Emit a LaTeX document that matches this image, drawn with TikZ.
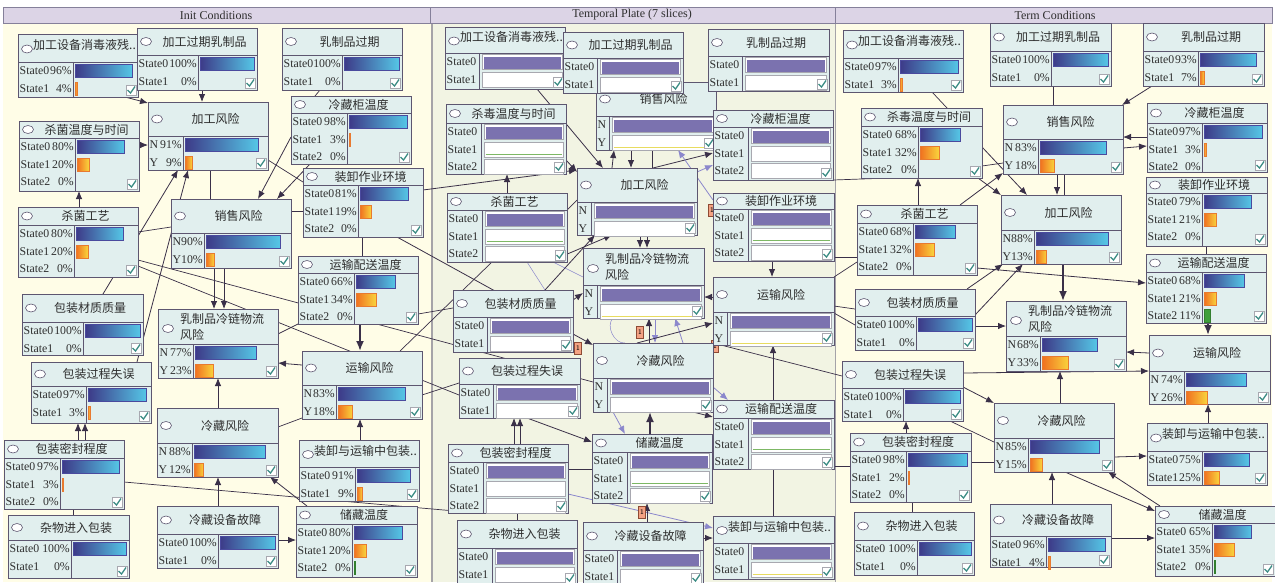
\documentclass[tikz,border=0pt]{standalone}
\usepackage{fontspec}
\setmainfont{Liberation Serif}
\newfontfamily\cjk{Noto Sans CJK SC}
\usetikzlibrary{arrows.meta,shapes.geometric}
\pgfdeclarelayer{bgl}
\pgfdeclarelayer{edl}
\pgfsetlayers{bgl,edl,main}
\definecolor{cream}{HTML}{FFFDE7}
\definecolor{tplate}{HTML}{F2F4E3}
\definecolor{hdrf}{HTML}{DCD4E6}
\definecolor{hdrb}{HTML}{85809A}
\definecolor{nodef}{HTML}{E1EFEE}
\definecolor{nodeb}{HTML}{5D5670}
\definecolor{txt}{HTML}{2E2E2E}
\definecolor{edgec}{HTML}{3A3048}
\definecolor{lavc}{HTML}{8B87CC}
\definecolor{barA}{HTML}{3D3A88}
\definecolor{barB}{HTML}{55C6E6}
\definecolor{barE}{HTML}{4A4A9E}
\definecolor{orA}{HTML}{F07020}
\definecolor{orB}{HTML}{F9D43C}
\definecolor{orE}{HTML}{E87A30}
\definecolor{grA}{HTML}{3F9F3B}
\definecolor{tpur}{HTML}{7B72AF}
\definecolor{tbord}{HTML}{A8A8B0}
\definecolor{chkc}{HTML}{3B8C84}
\definecolor{onef}{HTML}{F4A283}
\definecolor{oneb}{HTML}{8E4A34}
\definecolor{plateb}{HTML}{A5A3A8}
\definecolor{tgreen}{HTML}{7DB865}
\definecolor{tyel}{HTML}{E8DC60}
\tikzset{
  bnbox/.style={rectangle,draw=nodeb,fill=nodef,line width=1pt,inner sep=0pt,outer sep=0pt},
  bnline/.style={draw=nodeb,line width=0.9pt},
  bnoval/.style={ellipse,draw=nodeb,fill=white,minimum width=11pt,minimum height=8pt,inner sep=0pt,line width=0.6pt},
  bntitle/.style={font=\cjk\fontsize{12}{16}\selectfont,text=txt,inner sep=0pt},
  bnlabel/.style={font=\fontsize{11.8}{14}\selectfont,text=txt,inner sep=0pt},
  barblue/.style={left color=barA,right color=barB,draw=barE,line width=0.6pt},
  barorange/.style={left color=orA,right color=orB,draw=orE,line width=0.6pt},
  bargreen/.style={fill=grA,draw=grA!80!black,line width=0.4pt},
  tboxw/.style={fill=white,draw=tbord,line width=0.6pt},
  chkbox/.style={fill=white,draw=tbord,line width=0.5pt},
  chk/.style={draw=chkc,line width=1.3pt},
  edge/.style={draw=edgec,line width=0.8pt,-{Latex[length=8pt,width=6.5pt]}},
  tedge/.style={draw=edgec,line width=1.8pt,-{Latex[length=10pt,width=8pt]}},
  pline/.style={draw=edgec,line width=0.7pt},
  lav/.style={draw=lavc,line width=0.8pt,-{Latex[length=8pt,width=6.5pt]}},
  lavthin/.style={draw=lavc,line width=0.5pt},
  onebox/.style={rectangle,fill=onef,draw=oneb,line width=0.5pt,minimum width=7pt,minimum height=12pt,inner sep=0pt,font=\fontsize{7}{8}\selectfont\sffamily},
  hdr/.style={fill=hdrf,draw=hdrb,line width=0.6pt},
  hdrtext/.style={font=\fontsize{12}{14}\selectfont,text=txt,inner sep=0pt}
}
\newcounter{bnc}
\newcommand\bnnode[9]{%
  \def\bnXa{#2}\def\bnYa{#3}\def\bnXb{#4}\def\bnYb{#5}\def\bnSep{#6}\def\bnCol{#7}%
  \pgfmathsetmacro\bnW{#4-#2}\pgfmathsetmacro\bnH{#5-#3}%
  \pgfmathsetmacro\bnMid{(#3+#6)/2}%
  \node[bnbox,minimum width=\bnW pt,minimum height=\bnH pt,anchor=north west] (#1) at (#2,#3) {};
  \draw[bnline] (#2,#6) -- (#4,#6) (#7,#6) -- (#7,#5);
  \if#8c
    \node[bnoval] (#1-o) at (#2+9,\bnMid) {};
    \node[bntitle] (#1-t) at ({(#2+15+#4)/2},\bnMid) {#9};
  \fi
  \if#8l
    \node[bnoval] (#1-o) at (#2+9,\bnMid+1) {};
    \node[bntitle,anchor=west] (#1-t) at (#2+15,\bnMid-3) {#9};
  \fi
  \if#8w
    \node[bnoval] (#1-o) at (#2+10,\bnMid+2) {};
    \node[bntitle,anchor=west,align=left] (#1-t) at (#2+22,\bnMid) {#9};
  \fi
}
\newcommand\bnend{%
  \path[chkbox] (\bnXb-12,\bnYb-12) rectangle (\bnXb-2,\bnYb-2);
  \draw[chk] (\bnXb-10.5,\bnYb-7) -- (\bnXb-7.5,\bnYb-4) -- (\bnXb-3,\bnYb-10.5);
}
\newcommand\bnlab[3]{%
  \pgfmathsetmacro\bnY{\bnSep+9+17.5*#1}%
  \stepcounter{bnc}%
  \node[bnlabel,anchor=west] (lab\arabic{bnc}) at (\bnXa+1.5,\bnY) {#2};
  \node[bnlabel,anchor=east] (pct\arabic{bnc}) at (\bnCol-1,\bnY) {#3};
}
\newcommand\bnlabT[2]{%
  \pgfmathsetmacro\bnY{\bnSep+9+17.5*#1}%
  \stepcounter{bnc}%
  \node[bnlabel,anchor=west] (lab\arabic{bnc}) at (\bnXa+1.5,\bnY) {#2};
}
\newcommand\bnbar[3]{%
  \pgfmathsetmacro\bnY{\bnSep+9+17.5*#1}%
  \pgfmathsetmacro\bnL{max(#2*(\bnXb-\bnCol-5),1.6)}%
  \path[#3] (\bnCol+2,\bnY-6.5) rectangle ++(\bnL,13);
}
\newcommand\rowB[4]{\bnlab{#1}{#2}{#3}\ifdim#4pt>0pt\bnbar{#1}{#4}{barblue}\fi}
\newcommand\rowO[4]{\bnlab{#1}{#2}{#3}\ifdim#4pt>0pt\bnbar{#1}{#4}{barorange}\fi}
\newcommand\rowG[4]{\bnlab{#1}{#2}{#3}\ifdim#4pt>0pt\bnbar{#1}{#4}{bargreen}\fi}
\newcommand\rowP[2]{\bnlabT{#1}{#2}%
  \path[tboxw] (\bnCol+3,\bnY-7.5) rectangle (\bnXb-3,\bnY+7.5);
  \fill[tpur] (\bnCol+4.5,\bnY-5.5) rectangle (\bnXb-4.5,\bnY+6.5);}
\newcommand\rowW[2]{\bnlabT{#1}{#2}%
  \path[tboxw] (\bnCol+3,\bnY-7.5) rectangle (\bnXb-3,\bnY+7.5);}
\newcommand\rowWL[3]{\bnlabT{#1}{#2}%
  \path[tboxw] (\bnCol+3,\bnY-7.5) rectangle (\bnXb-3,\bnY+7.5);
  \draw[#3,line width=1.3pt] (\bnCol+4.5,\bnY+5) -- (\bnXb-4.5,\bnY+5);}
\newcommand\E[7][edge]{\draw[#1] ([shift={(#3,#4)}]#2.north west) -- ([shift={(#6,#7)}]#5.north west);}
\begin{document}
\begin{tikzpicture}[x=1pt,y=-1pt]
\useasboundingbox (0,0) rectangle (1275,582);
\begin{pgfonlayer}{bgl}
\fill[white] (0,0) rectangle (1275,582);
\fill[cream] (3,23) rectangle (1272,582);
\fill[tplate] (432,23) rectangle (835,582);
\draw[plateb,line width=1.8pt] (432,23) -- (432,582);
\draw[plateb,line width=0.8pt] (835,23) -- (835,582);
\draw[hdr] (3,7) rectangle (430,23);
\draw[hdr] (430,7) rectangle (835,23);
\draw[hdr] (835,7) rectangle (1272,23);
\end{pgfonlayer}
\node[hdrtext] (h-init) at (216,15) {Init Conditions};
\node[hdrtext] (h-temp) at (632,15) {Temporal Plate (7 slices)};
\node[hdrtext] (h-term) at (1055,15) {Term Conditions};
% ================= Init =================
\bnnode{i-dis}{18}{34}{138}{97}{62}{73}{l}{加工设备消毒液残..}
\rowB{0}{State0}{96\%}{0.96}\rowO{1}{State1}{4\%}{0.04}\bnend
\bnnode{i-exp}{137}{28}{257}{90}{55}{198}{c}{加工过期乳制品}
\rowB{0}{State0}{100\%}{1}\rowO{1}{State1}{0\%}{0}\bnend
\bnnode{i-milk}{282}{28}{402}{90}{55}{342}{c}{乳制品过期}
\rowB{0}{State0}{100\%}{1}\rowO{1}{State1}{0\%}{0}\bnend
\bnnode{i-proc}{148}{102}{268}{170}{136}{183}{c}{加工风险}
\rowB{0}{N}{91\%}{0.91}\rowO{1}{Y}{9\%}{0.09}\bnend
\bnnode{i-fridge}{291}{96}{411}{164}{113}{347}{c}{冷藏柜温度}
\rowB{0}{State0}{98\%}{0.98}\rowO{1}{State1}{3\%}{0.03}\rowG{2}{State2}{0\%}{0}\bnend
\bnnode{i-sterT}{19}{121}{139}{191}{138}{75}{c}{杀菌温度与时间}
\rowB{0}{State0}{80\%}{0.80}\rowO{1}{State1}{20\%}{0.20}\rowG{2}{State2}{0\%}{0}\bnend
\bnnode{i-load}{303}{168}{423}{237}{185}{358}{c}{装卸作业环境}
\rowB{0}{State0}{81\%}{0.81}\rowO{1}{State1}{19\%}{0.19}\rowG{2}{State2}{0\%}{0}\bnend
\bnnode{i-ster}{18}{207}{138}{277}{225}{74}{c}{杀菌工艺}
\rowB{0}{State0}{80\%}{0.80}\rowO{1}{State1}{20\%}{0.20}\rowG{2}{State2}{0\%}{0}\bnend
\bnnode{i-sale}{171}{199}{291}{268}{233}{204}{c}{销售风险}
\rowB{0}{N}{90\%}{0.90}\rowO{1}{Y}{10\%}{0.10}\bnend
\bnnode{i-tdist}{298}{256}{418}{324}{273}{354}{c}{运输配送温度}
\rowB{0}{State0}{66\%}{0.66}\rowO{1}{State1}{34\%}{0.34}\rowG{2}{State2}{0\%}{0}\bnend
\bnnode{i-pmat}{22}{294}{143}{355}{322}{83}{c}{包装材质质量}
\rowB{0}{State0}{100\%}{1}\rowO{1}{State1}{0\%}{0}\bnend
\bnnode{i-cold}{158}{309}{278}{378}{344}{193}{w}{乳制品冷链物流\\风险}
\rowB{0}{N}{77\%}{0.77}\rowO{1}{Y}{23\%}{0.23}\bnend
\bnnode{i-perr}{31}{362}{151}{423}{386}{86}{c}{包装过程失误}
\rowB{0}{State0}{97\%}{0.97}\rowO{1}{State1}{3\%}{0.03}\bnend
\bnnode{i-trans}{302}{351}{422}{419}{385}{336}{c}{运输风险}
\rowB{0}{N}{83\%}{0.83}\rowO{1}{Y}{18\%}{0.18}\bnend
\bnnode{i-refr}{157}{408}{278}{477}{443}{192}{c}{冷藏风险}
\rowB{0}{N}{88\%}{0.88}\rowO{1}{Y}{12\%}{0.12}\bnend
\bnnode{i-pkgld}{299}{440}{419}{501}{467}{355}{l}{装卸与运输中包装..}
\rowB{0}{State0}{91\%}{0.91}\rowO{1}{State1}{9\%}{0.09}\bnend
\bnnode{i-seal}{4}{440}{124}{509}{458}{60}{c}{包装密封程度}
\rowB{0}{State0}{97\%}{0.97}\rowO{1}{State1}{3\%}{0.03}\rowG{2}{State2}{0\%}{0}\bnend
\bnnode{i-debris}{8}{515}{129}{578}{540}{71}{c}{杂物进入包装}
\rowB{0}{State0}{100\%}{1}\rowO{1}{State1}{0\%}{0}\bnend
\bnnode{i-equip}{157}{506}{278}{568}{534}{218}{c}{冷藏设备故障}
\rowB{0}{State0}{100\%}{1}\rowO{1}{State1}{0\%}{0}\bnend
\bnnode{i-store}{296}{506}{417}{577}{524}{352}{c}{储藏温度}
\rowB{0}{State0}{80\%}{0.80}\rowO{1}{State1}{20\%}{0.20}\rowG{2}{State2}{0\%}{0.005}\bnend
% ================= Temporal =================
\bnnode{p-sale}{596}{82}{716}{150}{116}{609}{c}{销售风险}
\rowP{0}{N}\rowWL{1}{Y}{tyel}\bnend
\bnnode{p-dis}{445}{27}{565}{89}{53}{479}{l}{加工设备消毒液残..}
\rowP{0}{State0}\rowW{1}{State1}\bnend
\bnnode{p-exp}{563}{32}{683}{93}{58}{597}{c}{加工过期乳制品}
\rowP{0}{State0}\rowW{1}{State1}\bnend
\bnnode{p-milk}{708}{29}{829}{91}{56}{742}{c}{乳制品过期}
\rowP{0}{State0}\rowW{1}{State1}\bnend
\bnnode{p-fridge}{713}{110}{833}{180}{127}{748}{c}{冷藏柜温度}
\rowP{0}{State0}\rowW{1}{State1}\rowW{2}{State2}\bnend
\bnnode{p-sterT}{446}{104}{566}{174}{123}{481}{c}{杀毒温度与时间}
\rowP{0}{State0}\rowWL{1}{State1}{tgreen}\rowW{2}{State2}\bnend
\bnnode{p-proc}{577}{168}{697}{235}{202}{591}{c}{加工风险}
\rowP{0}{N}\rowW{1}{Y}\bnend
\bnnode{p-load}{713}{193}{834}{261}{209}{748}{c}{装卸作业环境}
\rowP{0}{State0}\rowWL{1}{State1}{tgreen}\rowW{2}{State2}\bnend
\bnnode{p-ster}{447}{193}{567}{262}{210}{482}{c}{杀菌工艺}
\rowP{0}{State0}\rowWL{1}{State1}{tgreen}\rowW{2}{State2}\bnend
\bnnode{p-cold}{583}{248}{704}{318}{285}{597}{w}{乳制品冷链物流\\风险}
\rowP{0}{N}\rowWL{1}{Y}{tyel}\bnend
\bnnode{p-trans}{713}{277}{834}{345}{312}{727}{c}{运输风险}
\rowP{0}{N}\rowWL{1}{Y}{tyel}\bnend
\bnnode{p-pmat}{453}{290}{573}{352}{317}{487}{c}{包装材质质量}
\rowP{0}{State0}\rowW{1}{State1}\bnend
\bnnode{p-refr}{593}{343}{713}{412}{378}{607}{c}{冷藏风险}
\rowP{0}{N}\rowW{1}{Y}\bnend
\bnnode{p-perr}{459}{358}{580}{418}{384}{493}{c}{包装过程失误}
\rowP{0}{State0}\rowW{1}{State1}\bnend
\bnnode{p-tdist}{713}{400}{834}{469}{418}{748}{c}{运输配送温度}
\rowP{0}{State0}\rowWL{1}{State1}{tgreen}\rowW{2}{State2}\bnend
\bnnode{p-store}{592}{434}{712}{503}{452}{627}{c}{储藏温度}
\rowP{0}{State0}\rowWL{1}{State1}{tgreen}\rowW{2}{State2}\bnend
\bnnode{p-seal}{448}{444}{568}{513}{462}{483}{c}{包装密封程度}
\rowP{0}{State0}\rowW{1}{State1}\rowW{2}{State2}\bnend
\bnnode{p-debris}{457}{520}{577}{585}{548}{492}{c}{杂物进入包装}
\rowP{0}{State0}\rowW{1}{State1}\bnend
\bnnode{p-equip}{583}{522}{703}{585}{550}{617}{c}{冷藏设备故障}
\rowP{0}{State0}\rowW{1}{State1}\bnend
\bnnode{p-pkgld}{713}{516}{834}{579}{543}{748}{l}{装卸与运输中包装..}
\rowP{0}{State0}\rowWL{1}{State1}{tyel}\bnend
% ================= Term =================
\bnnode{t-dis}{843}{30}{963}{92}{58}{898}{l}{加工设备消毒液残..}
\rowB{0}{State0}{97\%}{0.97}\rowO{1}{State1}{3\%}{0.03}\bnend
\bnnode{t-exp}{990}{23}{1111}{86}{51}{1051}{c}{加工过期乳制品}
\rowB{0}{State0}{100\%}{1}\rowO{1}{State1}{0\%}{0}\bnend
\bnnode{t-milk}{1143}{23}{1264}{86}{51}{1198}{c}{乳制品过期}
\rowB{0}{State0}{93\%}{0.93}\rowO{1}{State1}{7\%}{0.07}\bnend
\bnnode{t-sterT}{861}{108}{982}{178}{126}{918}{c}{杀毒温度与时间}
\rowB{0}{State0}{68\%}{0.68}\rowO{1}{State1}{32\%}{0.32}\rowG{2}{State2}{0\%}{0}\bnend
\bnnode{t-sale}{1003}{105}{1123}{174}{139}{1038}{c}{销售风险}
\rowB{0}{N}{83\%}{0.83}\rowO{1}{Y}{18\%}{0.18}\bnend
\bnnode{t-fridge}{1147}{103}{1267}{172}{123}{1202}{c}{冷藏柜温度}
\rowB{0}{State0}{97\%}{0.97}\rowO{1}{State1}{3\%}{0.03}\rowG{2}{State2}{0\%}{0}\bnend
\bnnode{t-load}{1146}{177}{1267}{246}{193}{1202}{c}{装卸作业环境}
\rowB{0}{State0}{79\%}{0.79}\rowO{1}{State1}{21\%}{0.21}\rowG{2}{State2}{0\%}{0}\bnend
\bnnode{t-ster}{857}{205}{977}{275}{223}{913}{c}{杀菌工艺}
\rowB{0}{State0}{68\%}{0.68}\rowO{1}{State1}{32\%}{0.32}\rowG{2}{State2}{0\%}{0}\bnend
\bnnode{t-proc}{1001}{195}{1121}{264}{230}{1034}{c}{加工风险}
\rowB{0}{N}{88\%}{0.88}\rowO{1}{Y}{13\%}{0.13}\bnend
\bnnode{t-tdist}{1146}{254}{1266}{323}{272}{1202}{c}{运输配送温度}
\rowB{0}{State0}{68\%}{0.68}\rowO{1}{State1}{21\%}{0.21}\rowG{2}{State2}{11\%}{0.11}\bnend
\bnnode{t-pmat}{855}{289}{975}{350}{316}{916}{c}{包装材质质量}
\rowB{0}{State0}{100\%}{1}\rowO{1}{State1}{0\%}{0}\bnend
\bnnode{t-cold}{1006}{301}{1126}{371}{336}{1040}{w}{乳制品冷链物流\\风险}
\rowB{0}{N}{68\%}{0.68}\rowO{1}{Y}{33\%}{0.33}\bnend
\bnnode{t-trans}{1149}{335}{1270}{404}{371}{1184}{c}{运输风险}
\rowB{0}{N}{74\%}{0.74}\rowO{1}{Y}{26\%}{0.26}\bnend
\bnnode{t-perr}{842}{361}{963}{421}{388}{903}{c}{包装过程失误}
\rowB{0}{State0}{100\%}{1}\rowO{1}{State1}{0\%}{0}\bnend
\bnnode{t-refr}{994}{403}{1114}{472}{438}{1028}{c}{冷藏风险}
\rowB{0}{N}{85\%}{0.85}\rowO{1}{Y}{15\%}{0.15}\bnend
\bnnode{t-pkgld}{1147}{423}{1267}{485}{451}{1202}{l}{装卸与运输中包装..}
\rowB{0}{State0}{75\%}{0.75}\rowO{1}{State1}{25\%}{0.25}\bnend
\bnnode{t-seal}{850}{433}{971}{502}{451}{906}{c}{包装密封程度}
\rowB{0}{State0}{98\%}{0.98}\rowO{1}{State1}{2\%}{0.02}\rowG{2}{State2}{0\%}{0}\bnend
\bnnode{t-debris}{854}{512}{974}{575}{540}{917}{c}{杂物进入包装}
\rowB{0}{State0}{100\%}{1}\rowO{1}{State1}{0\%}{0}\bnend
\bnnode{t-equip}{990}{504}{1111}{567}{536}{1046}{c}{冷藏设备故障}
\rowB{0}{State0}{96\%}{0.96}\rowO{1}{State1}{4\%}{0.04}\bnend
\bnnode{t-store}{1155}{506}{1275}{576}{523}{1212}{c}{储藏温度}
\rowB{0}{State0}{65\%}{0.65}\rowO{1}{State1}{35\%}{0.35}\rowG{2}{State2}{0\%}{0.005}\bnend
% ================= Edges =================
\begin{pgfonlayer}{edl}
% Init
\E{i-dis}{107}{63}{i-proc}{0}{1}
\E{i-exp}{65}{62}{i-proc}{54}{0}
\E{i-sterT}{120}{24}{i-proc}{0}{43}
\E{i-ster}{61}{0}{i-sterT}{60}{70}
\E{i-pmat}{81}{0}{i-proc}{30}{68}
\E{i-perr}{106}{0}{i-proc}{40}{68}
\E[pline]{i-ster}{120}{25}{i-sale}{0}{28}
\E[pline]{i-ster}{120}{53}{p-refr}{0}{39}
\E[pline]{i-ster}{120}{59}{p-perr}{0}{37}
\E[pline]{i-proc}{62}{68}{i-sale}{39}{0}
\E{i-fridge}{0}{41}{i-sale}{87}{0}
\E{i-fridge}{19}{68}{i-sale}{106}{0}
\E[pline]{i-milk}{38}{62}{i-fridge}{24}{0}
\E[pline]{i-load}{0}{43}{i-sale}{120}{12}
\E[pline]{i-load}{59}{69}{i-tdist}{64}{0}
\E[pline]{i-proc}{120}{58}{i-load}{0}{14}
\E{i-sale}{43}{69}{i-cold}{56}{0}
\E{i-sale}{53}{69}{i-cold}{66}{0}
\E[tedge]{i-tdist}{62}{68}{i-trans}{58}{0}
\E{i-trans}{0}{14}{i-cold}{120}{54}
\E{i-refr}{61}{0}{i-cold}{60}{69}
\E[pline]{i-refr}{121}{19}{i-trans}{0}{67}
\E{i-pkgld}{61}{0}{i-trans}{58}{68}
\E{i-equip}{61}{0}{i-refr}{61}{69}
\E{i-equip}{121}{34}{i-store}{0}{34}
\E{i-store}{11}{0}{i-refr}{113}{69}
\E{i-seal}{74}{0}{i-perr}{47}{61}
\E{i-seal}{81}{0}{i-perr}{54}{61}
\E[pline]{i-debris}{65}{0}{i-seal}{69}{69}
\E[pline]{i-cold}{120}{25}{i-tdist}{0}{68}
% Init -> Temporal
\E{i-load}{120}{22}{p-proc}{0}{2}
\E{i-load}{94}{69}{p-refr}{0}{2}
\E[pline]{i-tdist}{120}{58}{p-pmat}{0}{18}
\E[pline]{i-trans}{98}{0}{p-ster}{45}{69}
\E[pline]{i-trans}{120}{44}{p-perr}{0}{25}
\E[pline]{i-seal}{120}{42}{p-seal}{30}{69}
% Temporal
\E{p-dis}{92}{62}{p-proc}{26}{0}
\E{p-sterT}{120}{56}{p-proc}{0}{4}
\E{p-sale}{35}{68}{p-proc}{54}{0}
\E{p-proc}{35}{0}{p-sale}{18}{68}
\E[pline]{p-sale}{56}{68}{p-proc}{75}{0}
\E{p-proc}{76}{0}{p-fridge}{0}{43}
\E[lav]{p-proc}{120}{4}{p-fridge}{0}{55}
\E[lav]{p-load}{0}{7}{p-sale}{82}{68}
\E{p-ster}{60}{0}{p-sterT}{61}{70}
\E[pline]{p-ster}{120}{17}{p-proc}{0}{32}
\E{p-pmat}{92}{0}{p-proc}{18}{67}
\E{p-ster}{118}{62}{p-proc}{35}{67}
\E{p-proc}{63}{67}{p-cold}{57}{0}
\E{p-proc}{70}{67}{p-cold}{64}{0}
\E{p-load}{59}{68}{p-trans}{59}{0}
\E{p-trans}{0}{20}{p-cold}{121}{49}
\E{p-refr}{56}{0}{p-cold}{66}{70}
\E[lav]{p-cold}{72}{70}{p-refr}{62}{0}
\draw[lavthin] ([shift={(30,70)}]p-cold.north west) to[bend right=70] ([shift={(32,0)}]p-refr.north west);
\E[lav]{p-refr}{90}{0}{p-cold}{92}{70}
\E{p-pmat}{120}{10}{p-cold}{0}{45}
\E{p-refr}{44}{0}{p-trans}{0}{46}
\E{p-tdist}{60}{0}{p-trans}{60}{68}
\E[lav]{p-refr}{120}{44}{p-tdist}{15}{0}
\E{p-refr}{100}{69}{p-tdist}{0}{17}
\E[tedge]{p-store}{58}{0}{p-refr}{57}{69}
\E[lav]{p-refr}{20}{69}{p-store}{33}{0}
\E{p-perr}{68}{60}{p-store}{0}{8}
\E{p-seal}{66}{0}{p-perr}{55}{60}
\E{p-seal}{72}{0}{p-perr}{61}{60}
\E[pline]{p-seal}{120}{25}{p-store}{0}{35}
\E[lav]{p-seal}{120}{50}{p-pkgld}{0}{12}
\E{p-equip}{120}{16}{p-pkgld}{0}{22}
\E{p-equip}{64}{0}{p-store}{55}{69}
\E[pline]{p-tdist}{60}{69}{p-pkgld}{60}{0}
\E[pline]{p-debris}{60}{0}{p-seal}{69}{69}
\E[lavthin]{p-ster}{80}{69}{p-pmat}{92}{0}
\E[lavthin]{p-ster}{106}{69}{p-cold}{0}{29}
\node[onebox] (one1) at (640,332) {1};
\node[onebox] (one2) at (578,348) {1};
\node[onebox] (one3) at (642,512) {1};
\node[onebox] (one4) at (712,210) {1};
\node[onebox] (one5) at (715,346) {1};
% Temporal -> Term
\E[pline]{p-fridge}{120}{70}{t-sterT}{29}{70}
\E[pline]{p-load}{121}{64}{t-ster}{0}{52}
\E[pline]{p-trans}{121}{0}{t-ster}{0}{57}
\E[pline]{p-trans}{121}{29}{t-pmat}{0}{20}
\E[pline]{p-trans}{121}{36}{t-pmat}{0}{36}
\E[pline]{p-refr}{120}{0}{t-perr}{0}{15}
\E[pline]{p-tdist}{121}{66}{t-seal}{0}{33}
% Term
\E[pline]{t-dis}{89}{62}{t-sterT}{86}{0}
\E[pline]{t-exp}{63}{63}{t-sale}{50}{0}
\E{t-milk}{9}{63}{t-sale}{119}{0}
\E{t-fridge}{0}{34}{t-sale}{120}{32}
\E{t-sale}{120}{43}{t-fridge}{0}{43}
\E{t-sterT}{121}{39}{t-proc}{26}{0}
\E[pline]{t-sterT}{121}{58}{t-sale}{0}{58}
\E{t-sterT}{117}{70}{t-proc}{0}{0}
\E{t-ster}{103}{0}{t-sale}{0}{68}
\E{t-ster}{61}{0}{t-sterT}{57}{70}
\E{t-sale}{54}{69}{t-proc}{56}{0}
\E[pline]{t-sale}{61}{69}{t-proc}{63}{0}
\E[tedge]{t-proc}{62}{69}{t-cold}{57}{0}
\E{t-pmat}{112}{0}{t-proc}{2}{69}
\E{t-pmat}{120}{26}{t-proc}{22}{69}
\E{t-ster}{120}{63}{t-tdist}{0}{29}
\E[pline]{t-load}{60}{69}{t-tdist}{60}{0}
\E[tedge]{t-tdist}{62}{69}{t-trans}{59}{0}
\E{t-trans}{0}{18}{t-cold}{120}{51}
\E{t-pmat}{120}{37}{t-cold}{0}{25}
\E{t-perr}{121}{12}{t-trans}{0}{36}
\E{t-refr}{66}{0}{t-cold}{54}{70}
\E{t-perr}{121}{26}{t-refr}{0}{0}
\E{t-seal}{56}{0}{t-perr}{64}{60}
\E[pline]{t-seal}{121}{29}{t-refr}{0}{59}
\E[pline]{t-perr}{108}{60}{t-refr}{0}{39}
\E[pline]{t-debris}{58}{0}{t-seal}{62}{69}
\E{t-refr}{120}{54}{t-pkgld}{0}{33}
\E{t-pkgld}{61}{0}{t-trans}{59}{69}
\E{t-refr}{71}{69}{t-store}{0}{5}
\E{t-store}{5}{0}{t-refr}{114}{69}
\E{t-equip}{62}{0}{t-refr}{58}{69}
\E{t-equip}{121}{34}{t-store}{0}{32}
\end{pgfonlayer}
\end{tikzpicture}
\end{document}
